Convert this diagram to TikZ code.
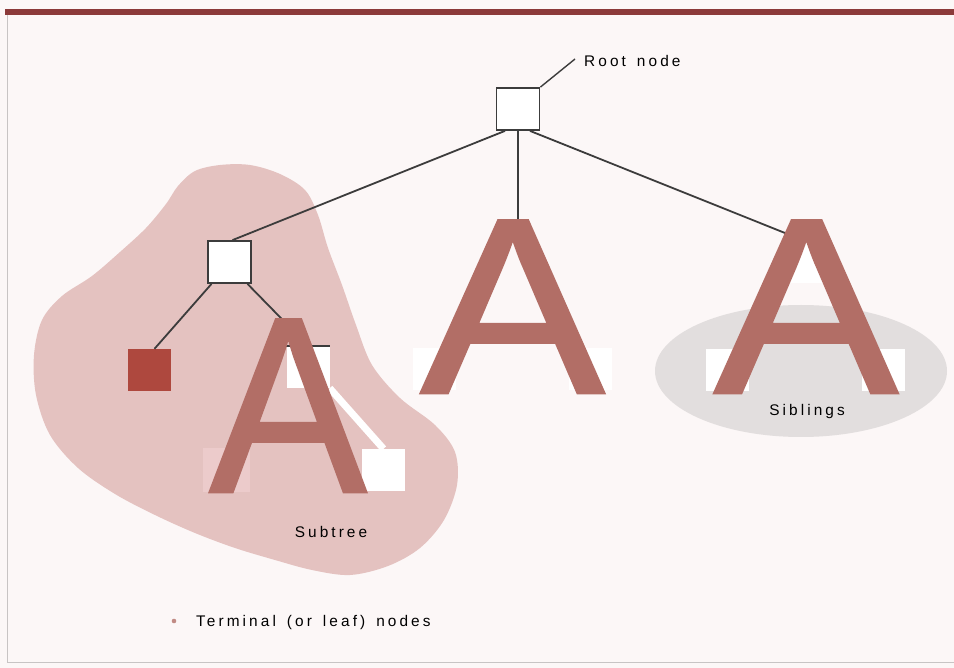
\documentclass[tikz,border=0pt]{standalone}
\usepackage{graphicx}
\usepackage{fontspec}
\setmainfont{Liberation Sans}
\newfontfamily\lblfont[LetterSpace=20,WordSpace=1.5]{Liberation Sans}
\newfontfamily\bigAfont[FakeBold=1]{Liberation Sans}
\usetikzlibrary{calc}
\definecolor{bgc}{RGB}{252,247,247}
\definecolor{barc}{RGB}{140,58,58}
\definecolor{blobc}{RGB}{228,194,192}
\definecolor{paleb}{RGB}{236,203,203}
\definecolor{ellc}{RGB}{226,222,222}
\definecolor{leafred}{RGB}{174,72,62}
\definecolor{acol}{RGB}{178,110,102}
\definecolor{linec}{RGB}{60,60,60}
\definecolor{stubc}{RGB}{150,150,150}
\definecolor{edgec}{RGB}{200,196,196}
\begin{document}
\begin{tikzpicture}[x=1pt,y=-1pt,
  treebox/.style={draw=linec,line width=1.8pt,fill=white,minimum width=43pt,minimum height=42pt,inner sep=0pt},
  hidbox/.style={fill=white,minimum width=43pt,minimum height=42pt,inner sep=0pt},
  edge/.style={draw=linec,line width=1.8pt},
  lbl/.style={font=\lblfont\fontsize{15.4}{18}\selectfont,text=black,inner sep=0pt},
  bigA/.style={font=\bigAfont\fontsize{251}{251}\selectfont,text=acol,inner sep=0pt,anchor=base}]
\useasboundingbox (0,0) rectangle (954,668);
\fill[bgc] (0,0) rectangle (954,668);
\fill[barc] (5,9) rectangle (954,15.5);
\draw[edgec,line width=1pt] (7,15) -- (7,662) -- (954,662);
% subtree blob
\fill[blobc] plot[smooth cycle,tension=0.55] coordinates {
(166,204) (178,186) (195,171) (220,165) (250,165) (280,174) (305,190) (318,215) (328,248)
(342,285) (356,325) (372,365) (400,398) (435,425) (455,452) (457,485) (444,520)
(420,548) (388,566) (350,575) (312,570) (275,560) (235,548) (195,533) (155,515)
(115,494) (78,468) (50,435) (36,395) (34,355) (42,320) (62,296) (92,276)
(120,252) (146,228)};
% siblings ellipse
\fill[ellc] (801,371) ellipse [x radius=146,y radius=66];
% nodes
\node[treebox] (root) at (518,109) {};
\node[treebox] (lc) at (229.5,262) {};
\node[hidbox,fill=bgc,minimum width=14pt,minimum height=44pt,anchor=north] (mc) at (513.5,239) {};
\node[hidbox,minimum height=44pt,anchor=north] (rc) at (806,239) {};
\node[fill=leafred,minimum width=43pt,minimum height=42pt,inner sep=0pt] (red) at (149.5,370) {};
\node[hidbox] (b3) at (308,367) {};
\node[hidbox] (b4) at (383.5,470) {};
\node[fill=paleb,minimum width=47pt,minimum height=44pt,inner sep=0pt] (pk) at (226.5,470) {};
\node[hidbox] (m1) at (434,369.5) {};
\node[hidbox] (m2) at (590,369.5) {};
\node[hidbox] (s1) at (727,370.5) {};
\node[hidbox] (s2) at (883,370.5) {};
% connectors
\draw[edge] ([xshift=-13pt]root.south) -- ([xshift=3pt]lc.north);
\draw[edge] (root.south) -- ([xshift=4.5pt]mc.north);
\draw[stubc,line width=1.2pt] (mc.north west) -- (mc.north east);
\draw[edge] ([xshift=12pt]root.south) -- ([xshift=-6pt]rc.north);
\draw[edge] ([xshift=-18pt]lc.south) -- ([xshift=5pt]red.north);
\draw[edge] ([xshift=18pt]lc.south) -- (b3.north);
\draw[edge] (b3.north west) -- (b3.north east);
\draw[white,line width=7pt] (b3.south east) -- (b4.north);
\node[lbl,anchor=base west] (rootlbl) at (584,67) {Root node};
\coordinate (rootlblend) at (575,59);
\draw[edge,line width=1.4pt] (root.north east) -- (rootlblend);
% big letters
\node[bigA] (A1) at (288,492) {\scalebox{0.94}[1]{A}};
\node[bigA] (A2) at (512.5,393) {\scalebox{1.1}[1]{A}};
\node[bigA] (A3) at (806,393) {\scalebox{1.1}[1]{A}};
% labels
\node[lbl,anchor=base] (sub) at (331,537) {Subtree};
\node[lbl,anchor=base] (sib) at (807,416) {Siblings};
\fill[acol!80] (174,621) circle (2.3);
\node[lbl,anchor=base west] (term) at (196,626) {Terminal (or leaf) nodes};
\end{tikzpicture}
\end{document}
